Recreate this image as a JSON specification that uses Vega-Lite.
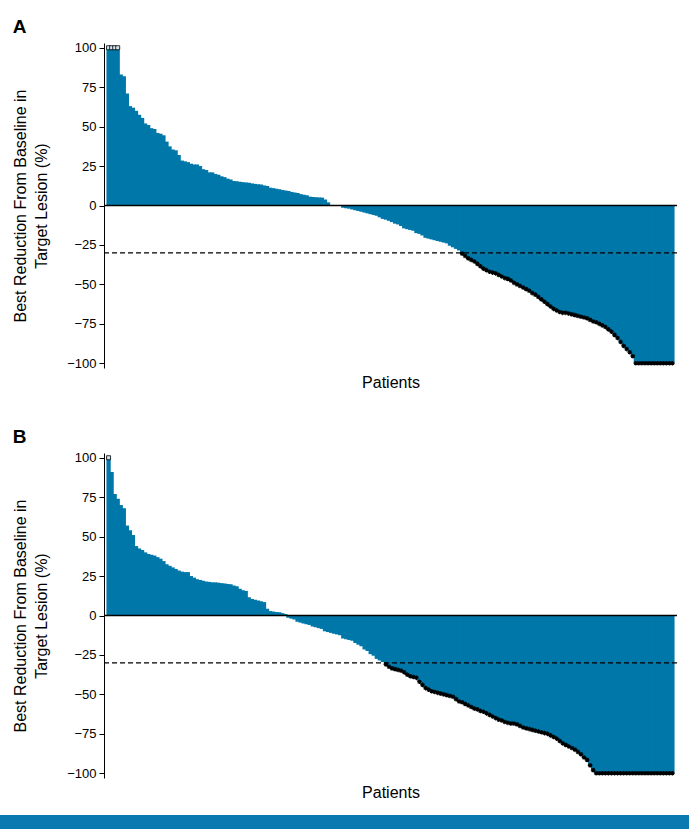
{
  "$schema": "https://vega.github.io/schema/vega-lite/v6.json",
  "background": "white",
  "padding": {"left": 12, "right": 0, "top": 17, "bottom": 0},
  "spacing": 15,
  "datasets": {
    "a": [
      {"i":0,"v":100},{"i":1,"v":100},{"i":2,"v":100},{"i":3,"v":100},{"i":4,"v":83},{"i":5,"v":82},{"i":6,"v":71},{"i":7,"v":63},{"i":8,"v":62},{"i":9,"v":60},
      {"i":10,"v":57.5},{"i":11,"v":55.5},{"i":12,"v":52},{"i":13,"v":51},{"i":14,"v":49},{"i":15,"v":48.5},{"i":16,"v":46},{"i":17,"v":45.5},{"i":18,"v":44.5},{"i":19,"v":40.5},
      {"i":20,"v":37.5},{"i":21,"v":35.5},{"i":22,"v":35},{"i":23,"v":32},{"i":24,"v":28.5},{"i":25,"v":28},{"i":26,"v":27.5},{"i":27,"v":26.5},{"i":28,"v":26},{"i":29,"v":26},
      {"i":30,"v":25},{"i":31,"v":23},{"i":32,"v":22.5},{"i":33,"v":21},{"i":34,"v":21},{"i":35,"v":20},{"i":36,"v":19.5},{"i":37,"v":18.5},{"i":38,"v":18},{"i":39,"v":17},
      {"i":40,"v":16.5},{"i":41,"v":15.5},{"i":42,"v":15.3},{"i":43,"v":15},{"i":44,"v":14.8},{"i":45,"v":14.6},{"i":46,"v":14.4},{"i":47,"v":14},{"i":48,"v":13.7},{"i":49,"v":13.5},
      {"i":50,"v":13.3},{"i":51,"v":12.7},{"i":52,"v":12.3},{"i":53,"v":11.3},{"i":54,"v":11},{"i":55,"v":10.6},{"i":56,"v":10.3},{"i":57,"v":9.8},{"i":58,"v":9.5},{"i":59,"v":9.2},
      {"i":60,"v":8.6},{"i":61,"v":8.3},{"i":62,"v":8},{"i":63,"v":7.2},{"i":64,"v":6.8},{"i":65,"v":6.5},{"i":66,"v":5.6},{"i":67,"v":5.4},{"i":68,"v":5.3},{"i":69,"v":5.1},
      {"i":70,"v":5},{"i":71,"v":3.8},{"i":72,"v":2},{"i":73,"v":0},{"i":74,"v":0},{"i":75,"v":0},{"i":76,"v":0},{"i":77,"v":-1.5},{"i":78,"v":-1.8},{"i":79,"v":-2},
      {"i":80,"v":-2.5},{"i":81,"v":-3},{"i":82,"v":-3.5},{"i":83,"v":-4},{"i":84,"v":-4.5},{"i":85,"v":-5},{"i":86,"v":-5.5},{"i":87,"v":-6},{"i":88,"v":-6.5},{"i":89,"v":-7.5},
      {"i":90,"v":-8.5},{"i":91,"v":-9},{"i":92,"v":-9.7},{"i":93,"v":-10.5},{"i":94,"v":-11.5},{"i":95,"v":-12},{"i":96,"v":-13},{"i":97,"v":-14.5},{"i":98,"v":-15},{"i":99,"v":-15.5},
      {"i":100,"v":-16},{"i":101,"v":-17.5},{"i":102,"v":-18},{"i":103,"v":-19},{"i":104,"v":-20.5},{"i":105,"v":-21},{"i":106,"v":-21.5},{"i":107,"v":-22},{"i":108,"v":-22.5},{"i":109,"v":-23},
      {"i":110,"v":-23.5},{"i":111,"v":-24},{"i":112,"v":-25.5},{"i":113,"v":-26.5},{"i":114,"v":-27.5},{"i":115,"v":-28.5},{"i":116,"v":-30.5},{"i":117,"v":-32},{"i":118,"v":-33.5},{"i":119,"v":-34.5},
      {"i":120,"v":-35.5},{"i":121,"v":-37},{"i":122,"v":-38.5},{"i":123,"v":-40},{"i":124,"v":-41},{"i":125,"v":-42},{"i":126,"v":-42.5},{"i":127,"v":-43},{"i":128,"v":-44},{"i":129,"v":-45},
      {"i":130,"v":-46},{"i":131,"v":-46.5},{"i":132,"v":-47.5},{"i":133,"v":-49},{"i":134,"v":-50},{"i":135,"v":-51},{"i":136,"v":-52},{"i":137,"v":-53},{"i":138,"v":-54},{"i":139,"v":-55.5},
      {"i":140,"v":-56.5},{"i":141,"v":-58},{"i":142,"v":-59.5},{"i":143,"v":-61},{"i":144,"v":-62.5},{"i":145,"v":-64},{"i":146,"v":-65.5},{"i":147,"v":-66.5},{"i":148,"v":-67.5},{"i":149,"v":-68},
      {"i":150,"v":-68},{"i":151,"v":-68.5},{"i":152,"v":-69},{"i":153,"v":-69.5},{"i":154,"v":-70},{"i":155,"v":-70.5},{"i":156,"v":-71},{"i":157,"v":-71.5},{"i":158,"v":-72.5},{"i":159,"v":-73.5},
      {"i":160,"v":-74},{"i":161,"v":-75},{"i":162,"v":-76},{"i":163,"v":-77},{"i":164,"v":-78.5},{"i":165,"v":-80},{"i":166,"v":-82},{"i":167,"v":-84},{"i":168,"v":-86.5},{"i":169,"v":-89},
      {"i":170,"v":-91},{"i":171,"v":-93},{"i":172,"v":-95.5},{"i":173,"v":-100},{"i":174,"v":-100},{"i":175,"v":-100},{"i":176,"v":-100},{"i":177,"v":-100},{"i":178,"v":-100},{"i":179,"v":-100},
      {"i":180,"v":-100},{"i":181,"v":-100},{"i":182,"v":-100},{"i":183,"v":-100},{"i":184,"v":-100},{"i":185,"v":-100}
    ],
    "b": [
      {"i":0,"v":100},{"i":1,"v":91},{"i":2,"v":77},{"i":3,"v":74},{"i":4,"v":70},{"i":5,"v":68},{"i":6,"v":57},{"i":7,"v":54},{"i":8,"v":51},{"i":9,"v":44},
      {"i":10,"v":42.5},{"i":11,"v":41.5},{"i":12,"v":40},{"i":13,"v":39},{"i":14,"v":38.5},{"i":15,"v":38},{"i":16,"v":37},{"i":17,"v":36},{"i":18,"v":34.5},{"i":19,"v":32.5},
      {"i":20,"v":31.5},{"i":21,"v":30.5},{"i":22,"v":29.5},{"i":23,"v":28.5},{"i":24,"v":27.8},{"i":25,"v":27.5},{"i":26,"v":27.5},{"i":27,"v":25},{"i":28,"v":24},{"i":29,"v":23},
      {"i":30,"v":22.5},{"i":31,"v":22},{"i":32,"v":21.5},{"i":33,"v":21.3},{"i":34,"v":21},{"i":35,"v":21},{"i":36,"v":20.8},{"i":37,"v":20.5},{"i":38,"v":20.3},{"i":39,"v":20},
      {"i":40,"v":19.8},{"i":41,"v":19},{"i":42,"v":18.5},{"i":43,"v":17},{"i":44,"v":16},{"i":45,"v":15.6},{"i":46,"v":11.5},{"i":47,"v":10.5},{"i":48,"v":10},{"i":49,"v":9.5},
      {"i":50,"v":9},{"i":51,"v":8.5},{"i":52,"v":4.2},{"i":53,"v":2.8},{"i":54,"v":2.5},{"i":55,"v":2.2},{"i":56,"v":2},{"i":57,"v":1.5},{"i":58,"v":1},{"i":59,"v":-1.5},
      {"i":60,"v":-2},{"i":61,"v":-2.5},{"i":62,"v":-4},{"i":63,"v":-4.5},{"i":64,"v":-5},{"i":65,"v":-5.5},{"i":66,"v":-6},{"i":67,"v":-7},{"i":68,"v":-7.5},{"i":69,"v":-8},
      {"i":70,"v":-8.5},{"i":71,"v":-10},{"i":72,"v":-10.5},{"i":73,"v":-11},{"i":74,"v":-11.5},{"i":75,"v":-12},{"i":76,"v":-12.5},{"i":77,"v":-14.5},{"i":78,"v":-15},{"i":79,"v":-15.5},
      {"i":80,"v":-16},{"i":81,"v":-17.5},{"i":82,"v":-18.5},{"i":83,"v":-19.5},{"i":84,"v":-21.5},{"i":85,"v":-22.5},{"i":86,"v":-24.5},{"i":87,"v":-25.5},{"i":88,"v":-27.5},{"i":89,"v":-28.5},
      {"i":90,"v":-29.5},{"i":91,"v":-31},{"i":92,"v":-32.5},{"i":93,"v":-33.5},{"i":94,"v":-34},{"i":95,"v":-34.5},{"i":96,"v":-35},{"i":97,"v":-36},{"i":98,"v":-37.5},{"i":99,"v":-38.5},
      {"i":100,"v":-39},{"i":101,"v":-39.5},{"i":102,"v":-42},{"i":103,"v":-44},{"i":104,"v":-46},{"i":105,"v":-47},{"i":106,"v":-48},{"i":107,"v":-48.5},{"i":108,"v":-49},{"i":109,"v":-49.5},
      {"i":110,"v":-50},{"i":111,"v":-50.5},{"i":112,"v":-51},{"i":113,"v":-51.5},{"i":114,"v":-53},{"i":115,"v":-54.5},{"i":116,"v":-55},{"i":117,"v":-56},{"i":118,"v":-57},{"i":119,"v":-58},
      {"i":120,"v":-59},{"i":121,"v":-59.5},{"i":122,"v":-60.5},{"i":123,"v":-61},{"i":124,"v":-62},{"i":125,"v":-63},{"i":126,"v":-64},{"i":127,"v":-65},{"i":128,"v":-66},{"i":129,"v":-66.5},
      {"i":130,"v":-67.5},{"i":131,"v":-68},{"i":132,"v":-68.5},{"i":133,"v":-68.5},{"i":134,"v":-69},{"i":135,"v":-70},{"i":136,"v":-71},{"i":137,"v":-71.5},{"i":138,"v":-72},{"i":139,"v":-72.5},
      {"i":140,"v":-73},{"i":141,"v":-73.5},{"i":142,"v":-74},{"i":143,"v":-74.5},{"i":144,"v":-75},{"i":145,"v":-76},{"i":146,"v":-77},{"i":147,"v":-78},{"i":148,"v":-79.5},{"i":149,"v":-81},
      {"i":150,"v":-82},{"i":151,"v":-83},{"i":152,"v":-84},{"i":153,"v":-85},{"i":154,"v":-86.5},{"i":155,"v":-88},{"i":156,"v":-90},{"i":157,"v":-91.5},{"i":158,"v":-95},{"i":159,"v":-98},
      {"i":160,"v":-100},{"i":161,"v":-100},{"i":162,"v":-100},{"i":163,"v":-100},{"i":164,"v":-100},{"i":165,"v":-100},{"i":166,"v":-100},{"i":167,"v":-100},{"i":168,"v":-100},{"i":169,"v":-100},
      {"i":170,"v":-100},{"i":171,"v":-100},{"i":172,"v":-100},{"i":173,"v":-100},{"i":174,"v":-100},{"i":175,"v":-100},{"i":176,"v":-100},{"i":177,"v":-100},{"i":178,"v":-100},{"i":179,"v":-100},
      {"i":180,"v":-100},{"i":181,"v":-100},{"i":182,"v":-100},{"i":183,"v":-100},{"i":184,"v":-100},{"i":185,"v":-100}
    ]
  },
  "vconcat": [
    {
      "spacing": 37,
      "vconcat": [
        {
          "title": {"text": "A"},
          "width": 573,
          "height": 325,
          "data": {"name": "a"},
          "layer": [
            {
              "mark": {"type": "bar", "color": "#0077a9", "width": {"band": 1.4}},
              "encoding": {
                "x": {"field": "i", "type": "ordinal", "sort": null, "scale": {"paddingInner": 0, "paddingOuter": 2.3}, "title": "Patients"},
                "y": {"field": "v", "type": "quantitative", "scale": {"domain": [-103, 103], "nice": false}, "title": ["Best Reduction From Baseline in", "Target Lesion (%)"], "axis": {"values": [-100, -75, -50, -25, 0, 25, 50, 75, 100]}}
              }
            },
            {
              "data": {"values": [{}]},
              "mark": {"type": "rule", "color": "black", "strokeWidth": 1.5},
              "encoding": {"y": {"datum": 0}}
            },
            {
              "data": {"values": [{}]},
              "mark": {"type": "rule", "color": "black", "strokeWidth": 1.2, "strokeDash": [5, 3]},
              "encoding": {"y": {"datum": -30}}
            },
            {
              "transform": [{"filter": "datum.v <= -30"}],
              "mark": {"type": "point", "shape": "M-1,0L1,0M0,-1L0,1M-0.7,-0.7L0.7,0.7M-0.7,0.7L0.7,-0.7", "size": 22, "filled": false, "stroke": "black", "strokeWidth": 1.1, "opacity": 1},
              "encoding": {
                "x": {"field": "i", "type": "ordinal", "sort": null, "title": "Patients"},
                "y": {"field": "v", "type": "quantitative", "title": ["Best Reduction From Baseline in", "Target Lesion (%)"], "axis": {"values": [-100, -75, -50, -25, 0, 25, 50, 75, 100]}}
              }
            },
            {
              "transform": [{"filter": "datum.v >= 100"}],
              "mark": {"type": "square", "size": 16, "fill": "#d3e3ec", "stroke": "black", "strokeWidth": 0.8, "opacity": 1},
              "encoding": {
                "x": {"field": "i", "type": "ordinal", "sort": null, "title": "Patients"},
                "y": {"field": "v", "type": "quantitative", "title": ["Best Reduction From Baseline in", "Target Lesion (%)"], "axis": {"values": [-100, -75, -50, -25, 0, 25, 50, 75, 100]}}
              }
            }
          ]
        },
        {
          "title": {"text": "B"},
          "width": 573,
          "height": 325,
          "data": {"name": "b"},
          "layer": [
            {
              "mark": {"type": "bar", "color": "#0077a9", "width": {"band": 1.4}},
              "encoding": {
                "x": {"field": "i", "type": "ordinal", "sort": null, "scale": {"paddingInner": 0, "paddingOuter": 2.3}, "title": "Patients"},
                "y": {"field": "v", "type": "quantitative", "scale": {"domain": [-103, 103], "nice": false}, "title": ["Best Reduction From Baseline in", "Target Lesion (%)"], "axis": {"values": [-100, -75, -50, -25, 0, 25, 50, 75, 100]}}
              }
            },
            {
              "data": {"values": [{}]},
              "mark": {"type": "rule", "color": "black", "strokeWidth": 1.5},
              "encoding": {"y": {"datum": 0}}
            },
            {
              "data": {"values": [{}]},
              "mark": {"type": "rule", "color": "black", "strokeWidth": 1.2, "strokeDash": [5, 3]},
              "encoding": {"y": {"datum": -30}}
            },
            {
              "transform": [{"filter": "datum.v <= -30"}],
              "mark": {"type": "point", "shape": "M-1,0L1,0M0,-1L0,1M-0.7,-0.7L0.7,0.7M-0.7,0.7L0.7,-0.7", "size": 22, "filled": false, "stroke": "black", "strokeWidth": 1.1, "opacity": 1},
              "encoding": {
                "x": {"field": "i", "type": "ordinal", "sort": null, "title": "Patients"},
                "y": {"field": "v", "type": "quantitative", "title": ["Best Reduction From Baseline in", "Target Lesion (%)"], "axis": {"values": [-100, -75, -50, -25, 0, 25, 50, 75, 100]}}
              }
            },
            {
              "transform": [{"filter": "datum.v >= 100"}],
              "mark": {"type": "square", "size": 16, "fill": "#d3e3ec", "stroke": "black", "strokeWidth": 0.8, "opacity": 1},
              "encoding": {
                "x": {"field": "i", "type": "ordinal", "sort": null, "title": "Patients"},
                "y": {"field": "v", "type": "quantitative", "title": ["Best Reduction From Baseline in", "Target Lesion (%)"], "axis": {"values": [-100, -75, -50, -25, 0, 25, 50, 75, 100]}}
              }
            }
          ]
        }
      ]
    },
    {
      "width": 585,
      "height": 15,
      "view": {"fill": "#0a79b1", "stroke": null},
      "data": {"values": [{}]},
      "mark": {"type": "point", "opacity": 0},
      "encoding": {
        "y": {"datum": 0, "type": "quantitative", "scale": {"domain": [0, 1]}, "axis": {"labels": false, "ticks": false, "title": null, "grid": false, "domainColor": "#0a79b1", "domainWidth": 106, "offset": 52.5, "translate": 0}}
      }
    }
  ],
  "config": {
    "font": "Liberation Sans",
    "view": {"stroke": null},
    "title": {"anchor": "start", "frame": "bounds", "fontSize": 19, "fontWeight": "bold", "color": "black", "offset": 5},
    "axisX": {"domain": false, "ticks": false, "labels": false, "grid": false, "titleFontSize": 16, "titleFontWeight": "normal", "titleColor": "black", "titlePadding": 6},
    "axisY": {"grid": false, "domainColor": "black", "tickColor": "black", "tickSize": 5, "labelPadding": 3, "labelFontSize": 13, "labelColor": "black", "titleFontSize": 16, "titleFontWeight": "normal", "titleColor": "black", "titleLineHeight": 21, "titlePadding": 17}
  }
}
